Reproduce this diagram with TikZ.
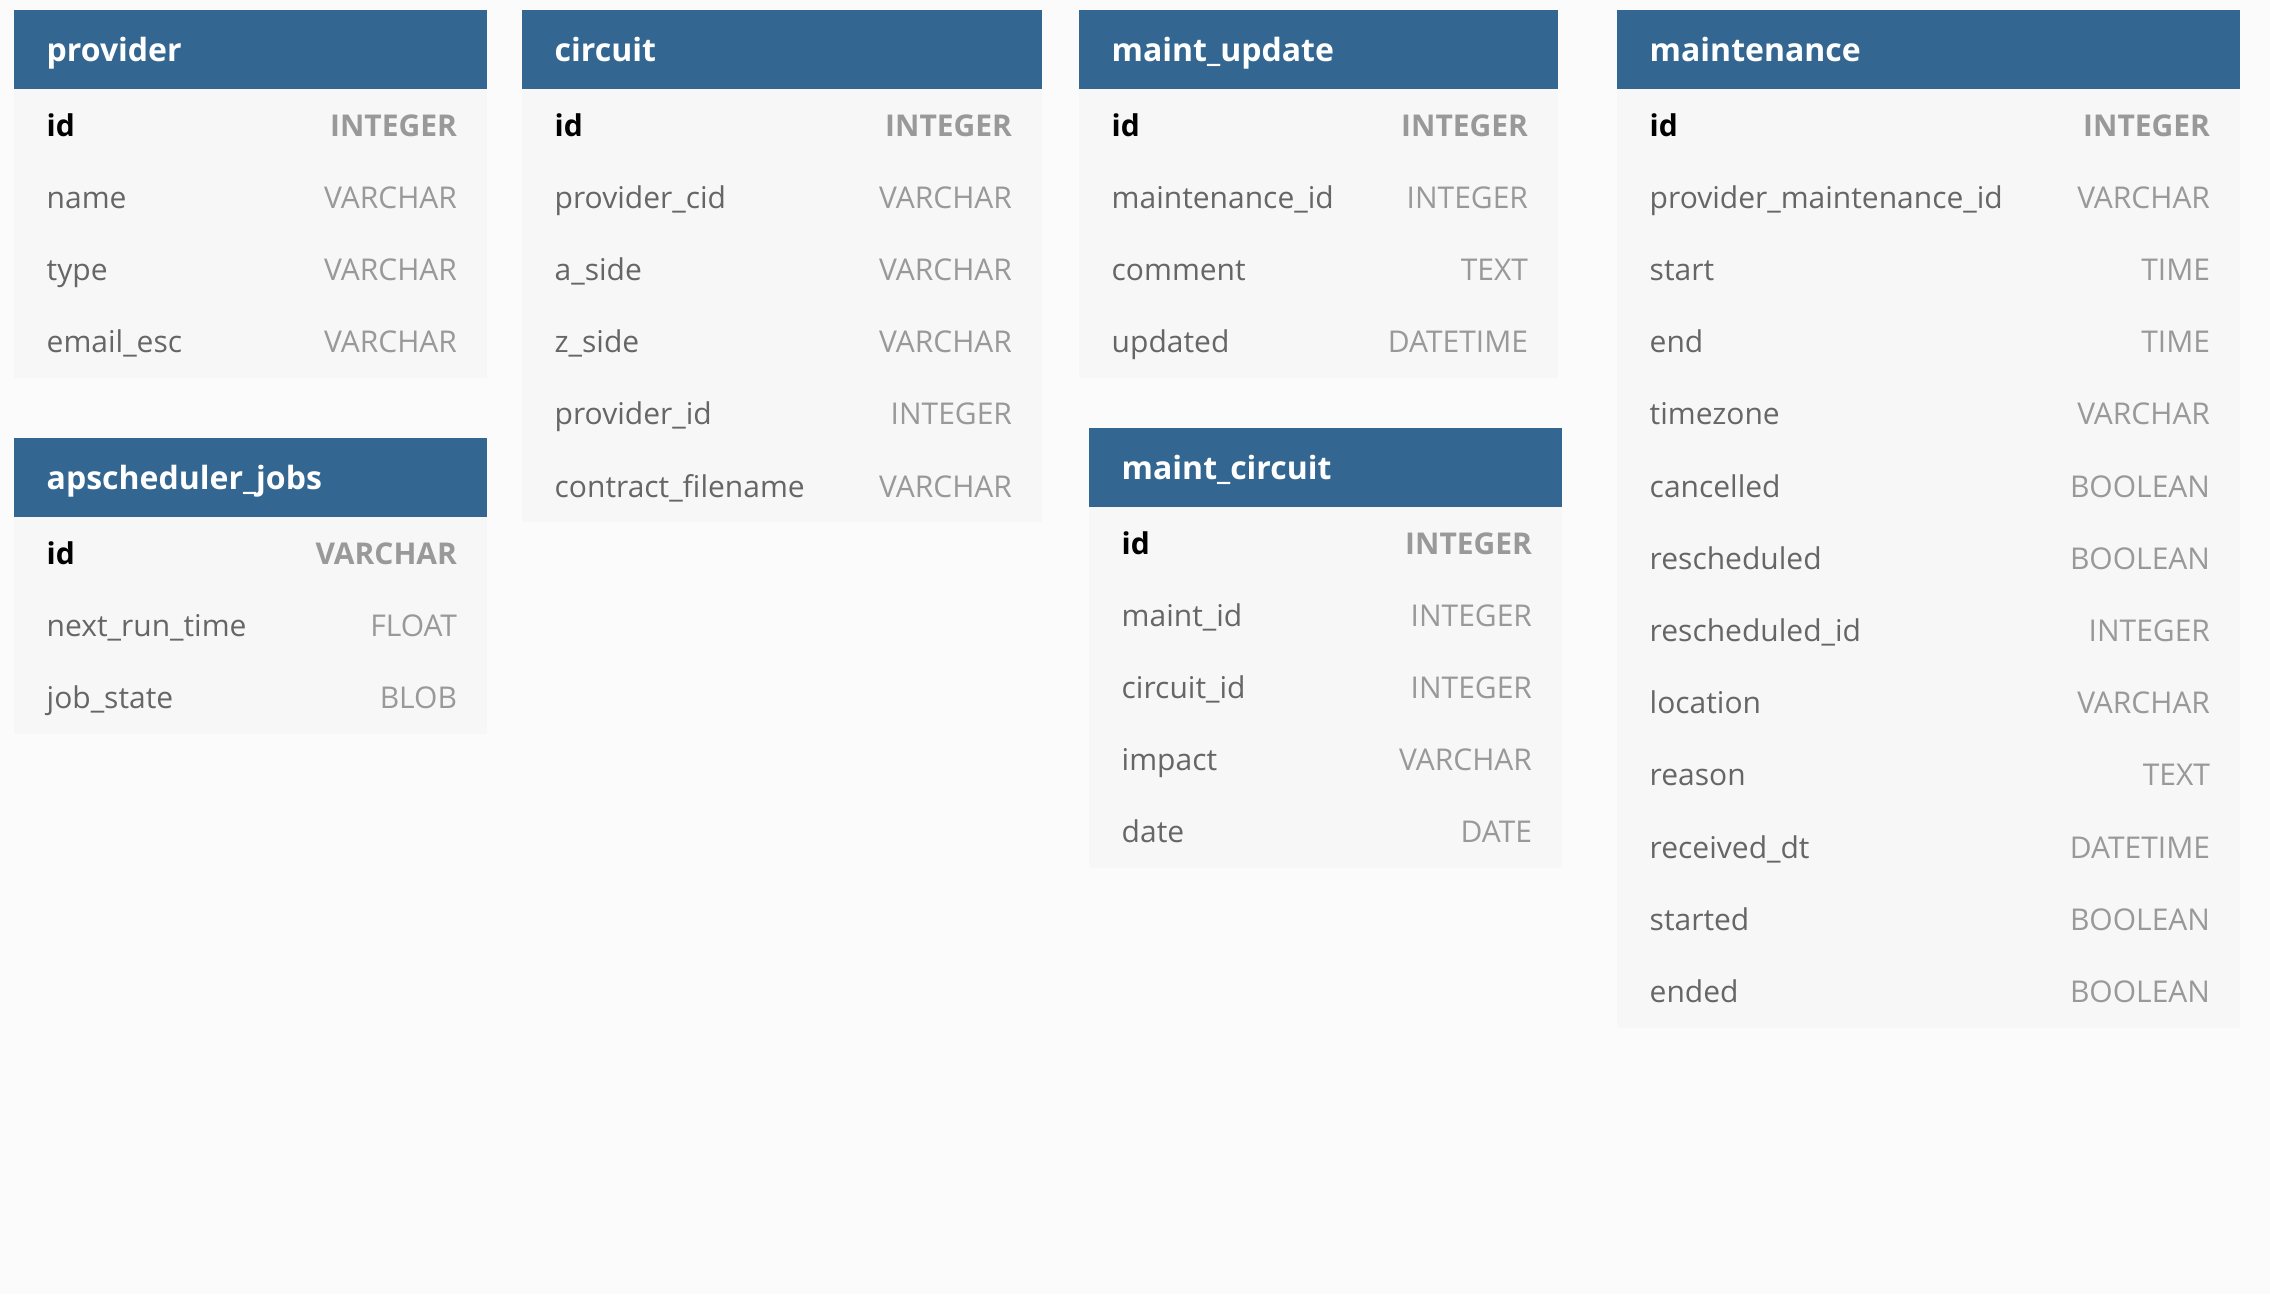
\documentclass[tikz,border=0pt]{standalone}
\usepackage{fontspec}
\setmainfont{Open Sans}
\usetikzlibrary{positioning}
\definecolor{hdr}{RGB}{51,103,145}
\definecolor{bodybg}{RGB}{247,247,247}
\definecolor{pagebg}{RGB}{251,251,251}
\definecolor{fname}{RGB}{102,102,102}
\definecolor{ftype}{RGB}{153,153,153}
\tikzset{
  hdrbox/.style={fill=hdr, draw=none, anchor=north west, minimum height=79pt},
  bodybox/.style={fill=bodybg, draw=none, anchor=north west},
  titletxt/.style={anchor=base west, text=white, font=\fontsize{32}{38}\selectfont\bfseries},
  pkname/.style={anchor=base west, text=black, font=\fontsize{30}{36}\selectfont\bfseries},
  pktype/.style={anchor=base east, text=ftype, font=\fontsize{30}{36}\selectfont\bfseries},
  fldname/.style={anchor=base west, text=fname, font=\fontsize{30}{36}\selectfont},
  fldtype/.style={anchor=base east, text=ftype, font=\fontsize{30}{36}\selectfont},
}
% #1 id, #2 x, #3 y, #4 width, #5 title, #6 nrows, #7 pk name, #8 pk type, #9 other fields
\newcommand\erdtable[9]{%
  \node[hdrbox, minimum width=#4pt] (#1-h) at (#2,#3) {};
  \node[bodybox, minimum width=#4pt, minimum height=#6*72.2pt] (#1-b) at (#1-h.south west) {};
  \node[titletxt] (#1-t) at ([xshift=32.7pt, yshift=-11.5pt]#1-h.west) {#5};
  \node[pkname] (#1-n0) at ([xshift=32.7pt, yshift=-126.1pt]#1-h.north west) {#7};
  \node[pktype] (#1-y0) at ([xshift=-30pt, yshift=-126.1pt]#1-h.north east) {#8};
  \foreach \fn/\ft [count=\i from 1] in {#9} {
    \pgfmathsetmacro\yy{126.1+72.2*\i}
    \node[fldname] (#1-n\i) at ([xshift=32.7pt, yshift=-\yy pt]#1-h.north west) {\fn};
    \node[fldtype] (#1-y\i) at ([xshift=-30pt, yshift=-\yy pt]#1-h.north east) {\ft};
  }
}
\begin{document}
\begin{tikzpicture}[x=1pt, y=-1pt, every node/.append style={inner sep=0pt, outer sep=0pt}]
\node[fill=pagebg, minimum width=2270pt, minimum height=1294pt, anchor=north west] (bg) at (0,0) {};
\erdtable{provider}{14}{10}{473}{provider}{4}{id}{INTEGER}{name/VARCHAR, type/VARCHAR, email\_esc/VARCHAR}
\erdtable{aps}{14}{438}{473}{apscheduler\_jobs}{3}{id}{VARCHAR}{next\_run\_time/FLOAT, job\_state/BLOB}
\erdtable{circuit}{522}{10}{520}{circuit}{6}{id}{INTEGER}{provider\_cid/VARCHAR, a\_side/VARCHAR, z\_side/VARCHAR, provider\_id/INTEGER, contract\_filename/VARCHAR}
\erdtable{mupd}{1079}{10}{479}{maint\_update}{4}{id}{INTEGER}{maintenance\_id/INTEGER, comment/TEXT, updated/DATETIME}
\erdtable{mcirc}{1089}{428}{473}{maint\_circuit}{5}{id}{INTEGER}{maint\_id/INTEGER, circuit\_id/INTEGER, impact/VARCHAR, date/DATE}
\erdtable{maint}{1617}{10}{623}{maintenance}{13}{id}{INTEGER}{provider\_maintenance\_id/VARCHAR, start/TIME, end/TIME, timezone/VARCHAR, cancelled/BOOLEAN, rescheduled/BOOLEAN, rescheduled\_id/INTEGER, location/VARCHAR, reason/TEXT, received\_dt/DATETIME, started/BOOLEAN, ended/BOOLEAN}
\end{tikzpicture}
\end{document}
